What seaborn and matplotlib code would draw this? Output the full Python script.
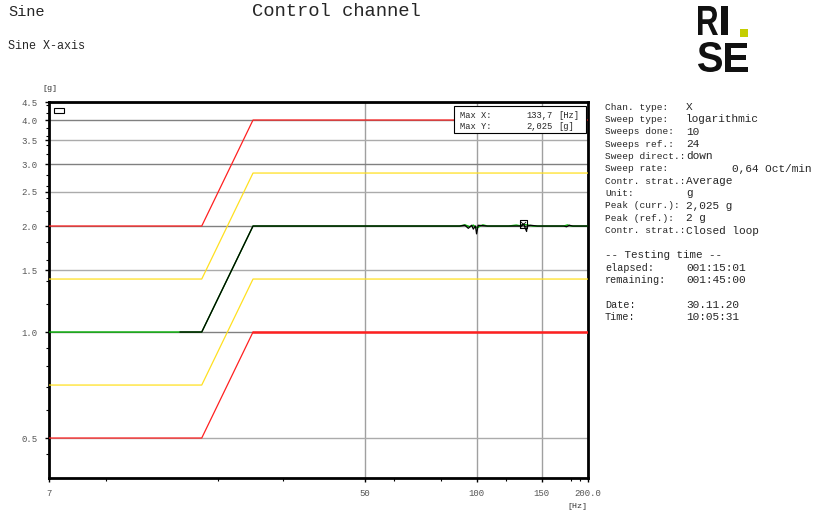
import matplotlib
matplotlib.use("Agg")
import numpy as np
import pandas as pd
import seaborn as sns
import matplotlib.pyplot as plt
from matplotlib.ticker import FixedLocator, NullFormatter
from matplotlib.textpath import TextPath
from matplotlib.patches import PathPatch, Rectangle
from matplotlib.font_manager import FontProperties
from matplotlib.transforms import Affine2D

# ---------------- data ----------------
limit_f = [7, 18.1, 24.9, 200]
abort_hi = [2.0, 2.0, 4.0, 4.0]
alarm_hi = [1.414, 1.414, 2.828, 2.828]
alarm_lo = [0.707, 0.707, 1.414, 1.414]
abort_lo = [0.5, 0.5, 1.0, 1.0]

green_f = [7, 18.1, 24.9, 90, 93, 96, 98, 100, 104, 107, 122, 128, 131, 134, 138, 142, 172, 176, 180, 200]
green_g = [1.0, 1.0, 2.0, 2.0, 2.015, 1.99, 2.012, 1.975, 2.015, 2.0, 2.0, 2.012, 2.004, 2.02, 2.012, 2.0, 2.0, 2.014, 2.0, 2.0]

black_f = [200, 182, 178, 175, 172, 146, 140, 137, 136.5, 134, 131, 122, 107, 101, 100, 99.3, 98, 97, 95, 93, 90, 24.9, 18.1, 15.8]
black_g = [2.0, 2.0, 2.01, 1.99, 2.0, 2.0, 2.01, 2.0, 1.93, 2.025, 2.0, 2.0, 2.0, 2.01, 1.90, 2.0, 1.96, 2.01, 1.97, 2.01, 2.0, 2.0, 1.0, 1.0]

max_x = [133.7]
max_y = [2.025]

y_major = [0.5, 1.0, 1.5, 2.0, 2.5, 3.0, 3.5, 4.0, 4.5]
x_major = [7, 50, 100, 150, 200]
x_major_labels = ["7", "50", "100", "150", "200.0"]
x_minor = [10, 20, 30, 60, 80, 120, 180, 190]

info_labels = ["Chan. type:", "Sweep type:", "Sweeps done:", "Sweeps ref.:", "Sweep direct.:",
               "Sweep rate:", "Contr. strat.:", "Unit:", "Peak (curr.):", "Peak (ref.):",
               "Contr. strat.:", "", "-- Testing time --", "elapsed:", "remaining:", "",
               "Date:", "Time:"]
info_values = ["X", "logarithmic", "10", "24", "down", "0,64 Oct/min", "Average", "g",
               "2,025 g", "2 g", "Closed loop", "", "", "001:15:01", "001:45:00", "",
               "30.11.20", "10:05:31"]

# ---------------- figure ----------------
sns.set_style("white")
plt.rcParams['font.family'] = ['Liberation Mono', 'DejaVu Sans Mono']

W, H = 813, 515
fig = plt.figure(figsize=(W / 100, H / 100), dpi=100)
ax = fig.add_axes([49 / W, (H - 478) / H, 539 / W, 376 / H])

ax.set_xscale("log")
ax.set_yscale("log")

RED = "#ff2020"
YEL = "#ffe020"

def line(x, y, color, lw=0.9, z=3):
    df = pd.DataFrame({"f": x, "g": y})
    sns.lineplot(data=df, x="f", y="g", ax=ax, color=color, lw=lw,
                 estimator=None, sort=False, zorder=z)

line(limit_f, abort_hi, RED)
line(limit_f, alarm_hi, YEL)
line(limit_f, alarm_lo, YEL)
line(limit_f[:3], abort_lo[:3], RED)
line(limit_f[2:], abort_lo[2:], RED, lw=1.8)
line(green_f, green_g, "#00b000", lw=1.0, z=4)
line(black_f, black_g, "black", lw=0.9, z=5)

sns.scatterplot(x=max_x, y=max_y, ax=ax, marker="s", s=28, facecolors="none",
                edgecolors="black", linewidth=0.8, zorder=6)
sns.scatterplot(x=max_x, y=max_y, ax=ax, marker="x", s=14, color="black",
                linewidth=0.6, zorder=6)

ax.set_xlim(7, 200)
ax.set_ylim(0.385, 4.5)

# ticks
ax.yaxis.set_major_locator(FixedLocator(y_major))
ax.set_yticklabels([f"{v:.1f}" for v in y_major])
y_minor = [0.45, 0.6, 0.7, 0.8, 0.9, 1.2, 1.4, 1.6, 1.8, 2.2, 2.4, 2.6, 2.8, 3.2, 3.4, 3.6, 3.8, 4.2, 4.4]
ax.yaxis.set_minor_locator(FixedLocator(y_minor))
ax.yaxis.set_minor_formatter(NullFormatter())
ax.xaxis.set_major_locator(FixedLocator(x_major))
ax.set_xticklabels(x_major_labels)
ax.xaxis.set_minor_locator(FixedLocator(x_minor))
ax.xaxis.set_minor_formatter(NullFormatter())

ax.tick_params(axis="both", which="major", direction="out", length=3, width=1,
               labelsize=6.5, labelcolor="#555555", color="black")
ax.tick_params(axis="both", which="minor", direction="out", length=2, width=0.8, color="black")
ax.tick_params(axis="x", which="major", pad=5)
ax.tick_params(axis="y", which="major", pad=5)
ax.tick_params(bottom=True, left=True, which="both")
ax.set_xlabel("")
ax.set_ylabel("")

ax.grid(True, which="major", axis="both", lw=1.0, zorder=1)
for v, gl in zip(y_major, ax.get_ygridlines()):
    gl.set_color("#808080" if float(v).is_integer() else "#ababab")
for gl in ax.get_xgridlines():
    gl.set_color("#a0a0a0")
ax.set_axisbelow(True)

for sp in ax.spines.values():
    sp.set_visible(True)
    sp.set_color("black")
    sp.set_linewidth(2)

# small legend handle
ax.add_patch(Rectangle((0.009, 0.971), 0.019, 0.013, transform=ax.transAxes,
                       facecolor="white", edgecolor="black", lw=0.8, zorder=7))

# max box
ax.add_patch(Rectangle((0.751, 0.918), 0.245, 0.071, transform=ax.transAxes,
                       facecolor="white", edgecolor="black", lw=0.8, zorder=7))
for yy, lab, num, unit in [(0.965, "Max X:", "133,7", "[Hz]"), (0.936, "Max Y:", "2,025", "[g]")]:
    ax.text(0.7625, yy, lab, transform=ax.transAxes, fontsize=6.3, va="center", ha="left", zorder=8)
    ax.text(0.935, yy, num, transform=ax.transAxes, fontsize=6.3, va="center", ha="right", zorder=8)
    ax.text(0.944, yy, unit, transform=ax.transAxes, fontsize=6.3, va="center", ha="left", zorder=8)

# units
fig.text(50 / W, 1 - 88 / H, "[g]", fontsize=6, ha="center", va="center", color="#333333")
fig.text(577 / W, 1 - 507 / H, "[Hz]", fontsize=6, ha="center", va="center", color="#333333")

# header
fig.text(8 / W, 1 - 12 / H, "Sine", fontsize=11, ha="left", va="center")
fig.text(336 / W, 1 - 11 / H, "Control channel", fontsize=13.5, ha="center", va="center")
fig.text(8 / W, 1 - 46 / H, "Sine X-axis", fontsize=8.5, ha="left", va="center")

# info panel
for i, (lab, val) in enumerate(zip(info_labels, info_values)):
    yy = 1 - (107 + 12.35 * i) / H
    if lab:
        if lab.startswith("--"):
            fs = 7.8
        elif i > 11:
            fs = 7.3
        else:
            fs = 6.8
        fig.text(605 / W, yy, lab, fontsize=fs, ha="left", va="center")
    if val:
        if "Oct" in val:
            fig.text(811 / W, yy, val, fontsize=8.0, ha="right", va="center")
        else:
            fig.text(686 / W, yy, val, fontsize=8.0, ha="left", va="center")

# logo
def letter(ch, x0, y0, x1, y1):
    tp = TextPath((0, 0), ch, size=100, prop=FontProperties(family="Liberation Sans", weight="bold"))
    bb = tp.get_extents()
    sx = (x1 - x0) / bb.width
    sy = (y1 - y0) / bb.height
    tr = (Affine2D().translate(-bb.x0, -bb.y0).scale(sx, sy).translate(x0, H - y1)
          .scale(1 / W, 1 / H) + fig.transFigure)
    fig.add_artist(PathPatch(tp, transform=tr, facecolor="#111111", edgecolor="none"))

letter("R", 698, 6, 718, 35)
letter("I", 721, 6, 728, 35)
letter("S", 698, 42, 722, 72)
letter("E", 725, 43, 748, 72)
fig.add_artist(Rectangle((740 / W, (H - 37) / H), 8 / W, 8 / H, transform=fig.transFigure,
                         facecolor="#c4ce00", edgecolor="none"))

fig.savefig("out.png", dpi=100)
